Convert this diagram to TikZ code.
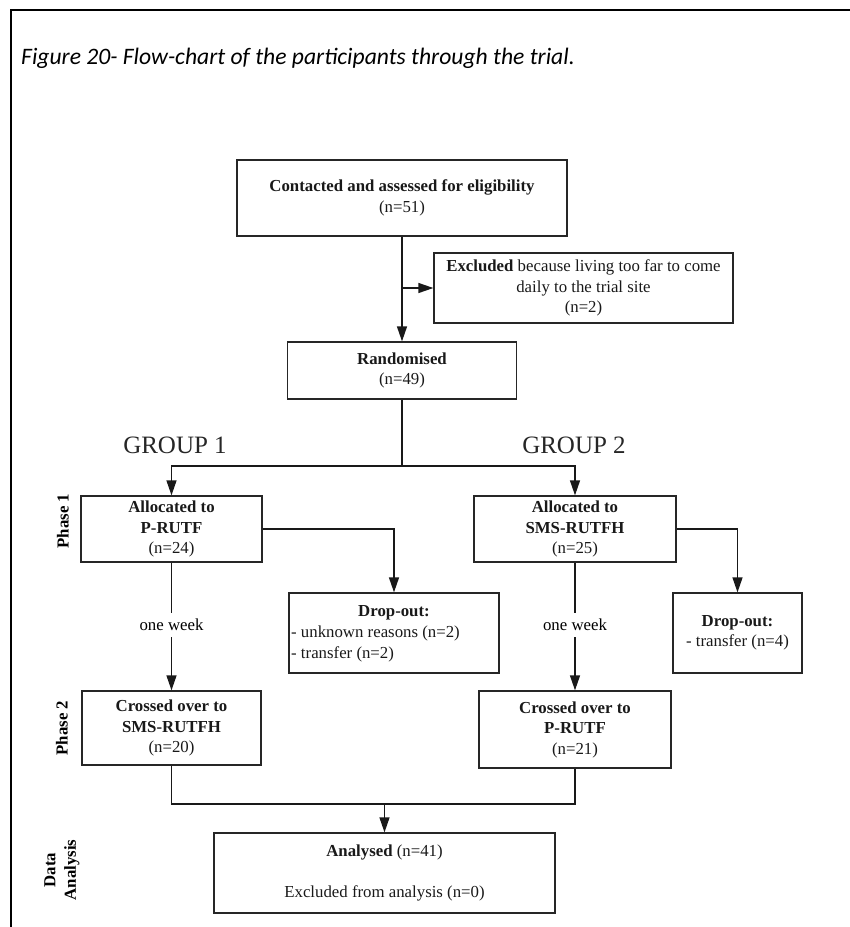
\documentclass[tikz,border=0pt]{standalone}
\usepackage{fontspec}
\setmainfont{Liberation Serif}
\newfontfamily\capfont{Carlito}
\usetikzlibrary{arrows.meta}
\newcommand\boxfont{\fontsize{16.8}{20.5}\selectfont}
\newcommand\groupfont{\fontsize{25}{30}\selectfont}
\newcommand\captionfont{\capfont\itshape\fontsize{23.6}{28}\selectfont}

\begin{document}
\begin{tikzpicture}[x=1pt,y=-1pt,
  box/.style={draw=black!85, line width=1.3pt, inner sep=0pt, align=center, font=\boxfont, text=black!90},
  plain/.style={inner sep=0pt, align=center, font=\boxfont, text=black!90},
  phase/.style={inner sep=0pt, align=center, font=\boxfont\bfseries, rotate=90},
  grp/.style={inner sep=0pt, font=\groupfont, text=black!85},
  link/.style={line width=1.3pt, draw=black!90},
  arr/.style={link, -{Triangle[width=10pt,length=15pt]}},
  week/.style={inner sep=0pt, minimum height=24pt, font=\boxfont, fill=white}]

\useasboundingbox (0,0) rectangle (850,927);

% page frame and caption
\draw[line width=2pt] (11,927) -- (11,10) -- (850,10);
\node[anchor=base west, inner sep=0pt, font=\captionfont] (caption) at (21,64)
  {Figure 20- Flow-chart of the participants through the trial.};

% enrolment
\node[box, minimum width=330, minimum height=76] (contact) at (402,198)
  {\textbf{Contacted and assessed for eligibility}\\(n=51)};
\node[box, minimum width=299, minimum height=70] (excl) at (583.5,288)
  {\textbf{Excluded} because living too far to come\\daily to the trial site\\(n=2)};
\node[box, minimum width=229, minimum height=57] (rand) at (402,370.5)
  {\textbf{Randomised}\\(n=49)};

% group headings
\node[grp] (g1) at (175,445) {GROUP 1};
\node[grp] (g2) at (574,445) {GROUP 2};

% phase 1
\node[box, minimum width=181, minimum height=66] (alloc1) at (171.5,529)
  {\textbf{Allocated to}\\\textbf{P-RUTF}\\(n=24)};
\node[box, minimum width=202, minimum height=66] (alloc2) at (575,529)
  {\textbf{Allocated to}\\\textbf{SMS-RUTFH}\\(n=25)};

% drop-outs
\node[box, minimum width=210, minimum height=80] (drop1) at (394,633) {};
\node[plain, font=\boxfont\bfseries] (drop1h) at (394,613) {Drop-out:};
\node[plain, anchor=west, align=left] (drop1l) at (291,644)
  {- unknown reasons (n=2)\\- transfer (n=2)};
\node[box, minimum width=129, minimum height=80] (drop2) at (737.5,633)
  {\textbf{Drop-out:}\\- transfer (n=4)};

% one week labels
\node[week] (wk1) at (171.5,625) {one week};
\node[week] (wk2) at (575,625) {one week};

% phase 2
\node[box, minimum width=179, minimum height=74] (cross1) at (171.5,728)
  {\textbf{Crossed over to}\\\textbf{SMS-RUTFH}\\(n=20)};
\node[box, minimum width=192, minimum height=77] (cross2) at (575,729.5)
  {\textbf{Crossed over to}\\\textbf{P-RUTF}\\(n=21)};

% analysis
\node[box, minimum width=341, minimum height=80] (anal) at (384.5,873)
  {\textbf{Analysed} (n=41)\\[20pt]Excluded from analysis (n=0)};

% side labels
\node[phase] (ph1) at (63,521) {Phase 1};
\node[phase] (ph2) at (62,728) {Phase 2};
\node[phase] (ph3) at (62,870) {Data\\Analysis};

% junction points
\coordinate (split) at (402,466);
\coordinate (merge) at (384.5,804);

% connectors
\draw[arr] (contact.south) -- (rand.north);
\draw[arr] (contact.south |- excl.west) -- (excl.west);
\draw[link] (rand.south) -- (split);
\draw[arr] (split) -| (alloc1.north);
\draw[arr] (split) -| (alloc2.north);
\draw[arr] (alloc1.east) -| (drop1.north);
\draw[arr] (alloc2.east) -| (drop2.north);
\draw[link] (alloc1.south) -- (wk1.north);
\draw[arr] (wk1.south) -- (cross1.north);
\draw[link] (alloc2.south) -- (wk2.north);
\draw[arr] (wk2.south) -- (cross2.north);
\draw[link] (cross1.south) -- (cross1.south |- merge) -- (cross2.south |- merge) -- (cross2.south);
\draw[arr] (merge) -- (anal.north);
\end{tikzpicture}
\end{document}
